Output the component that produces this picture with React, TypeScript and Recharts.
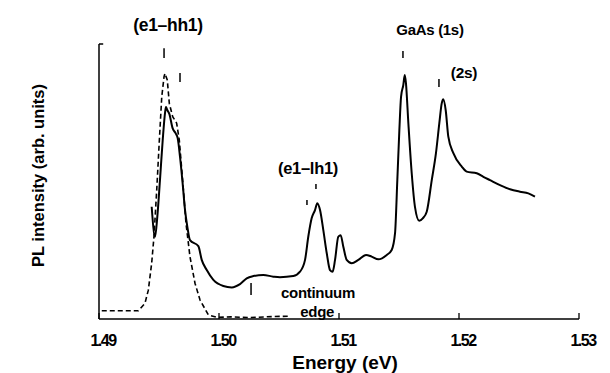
import React from 'react';
import { LineChart, Line, XAxis, YAxis, ReferenceLine, ReferenceDot, Label } from 'recharts';

// Measured PL spectrum (solid)
const plEnergy = [
  1.49439, 1.49467, 1.49486, 1.49508, 1.49531, 1.4955, 1.49558, 1.49569, 1.49586, 1.49614,
  1.49639, 1.49656, 1.49675, 1.49697, 1.49717, 1.49736, 1.49758, 1.49828, 1.49856, 1.49898,
  1.49953, 1.50036, 1.50106, 1.50175, 1.50231, 1.50286, 1.50369, 1.50453, 1.50508, 1.50619,
  1.50675, 1.50717, 1.50744, 1.50772, 1.508, 1.50819, 1.50842, 1.50869, 1.50898, 1.50925,
  1.50947, 1.50967, 1.50994, 1.51014, 1.51036, 1.51064, 1.51106, 1.51161, 1.51225, 1.51272,
  1.51328, 1.51398, 1.51439, 1.51467, 1.51486, 1.51503, 1.51517, 1.51536, 1.51548, 1.51558,
  1.51578, 1.51606, 1.51633, 1.51669, 1.51698, 1.51731, 1.51773, 1.51808, 1.51836, 1.51856,
  1.51869, 1.51889, 1.51911, 1.51953, 1.52023, 1.52064, 1.52148, 1.52203, 1.52258, 1.52342,
  1.52425, 1.52508, 1.52578, 1.52633,
];
const plIntensity = [
  40.8, 29.9, 37.2, 50.5, 65.1, 74.9, 77.1, 76.0, 74.6, 69.3,
  67.5, 65.7, 59.0, 49.3, 39.6, 33.6, 28.7, 26.5, 21.5, 17.8,
  14.2, 12.0, 11.5, 12.7, 14.8, 15.6, 16.0, 15.4, 15.2, 15.6,
  17.2, 21.5, 29.9, 36.6, 39.6, 42.1, 39.6, 32.4, 23.9, 17.8,
  17.2, 21.5, 29.9, 30.5, 26.3, 21.5, 20.3, 21.5, 23.3, 22.7,
  21.7, 23.3, 25.1, 31.2, 50.5, 68.7, 80.8, 85.1, 88.7, 85.7,
  71.2, 53.0, 40.8, 35.7, 36.6, 39.0, 50.5, 60.3, 71.2, 78.4,
  79.9, 76.0, 66.3, 60.3, 55.4, 53.6, 53.0, 51.7, 50.5, 48.7,
  47.2, 46.3, 45.7, 44.5,
];

// Reference (dashed) spectrum
const refEnergy = [
  1.49023, 1.49328, 1.49383, 1.49411, 1.49439, 1.49458, 1.49481, 1.49503, 1.49523, 1.49542,
  1.4955, 1.49569, 1.49586, 1.49614, 1.49647, 1.49669, 1.49697, 1.49725, 1.49758, 1.498,
  1.49842, 1.49911, 1.49981, 1.5010, 1.5025, 1.5045, 1.5059,
];
const refIntensity = [
  3.0, 3.0, 5.7, 10.5, 20.3, 29.9, 46.9, 65.1, 80.8, 88.1,
  89.3, 86.9, 78.4, 73.6, 71.2, 65.1, 50.5, 34.8, 22.7, 13.0,
  6.9, 1.5, 0.6, 0.8, 0.5, 0.9, 1.0,
];

// Peak marker ticks: energy, lower and upper intensity
const markerEnergy = [1.49542, 1.49675, 1.50808, 1.50733, 1.51533, 1.51833, 1.50267];
const markerLow = [94.9, 86.2, 47.3, 41.5, 94.9, 84.4, 8.7];
const markerHigh = [98.5, 89.5, 49.1, 43.3, 97.5, 87.3, 13.1];

// Annotations
const noteText = ['(e1\u2013hh1)', 'GaAs (1s)', '(2s)', '(e1\u2013lh1)', 'continuum', 'edge'];
const noteEnergy = [1.49575, 1.51758, 1.52042, 1.50742, 1.50825, 1.50818];
const noteIntensity = [106.9, 105.1, 89.5, 54.9, 9.5, 2.9];
const noteSize = [17.5, 15, 15.5, 16.5, 15, 15];

const xTicks = [1.49, 1.5, 1.51, 1.52, 1.53];

const FONT = '"Liberation Sans", Arial, sans-serif';

const plData = plEnergy.map((e, i) => ({ e, v: plIntensity[i] }));
const refData = refEnergy.map((e, i) => ({ e, v: refIntensity[i] }));

const XTick = (props: any) => {
  const { x, y, payload } = props;
  return (
    <g>
      <line x1={x} x2={x} y1={y} y2={y - 6} stroke="#000" strokeWidth={1.3} />
      <text
        x={x + 4}
        y={y + 27}
        textAnchor="middle"
        fontFamily={FONT}
        fontWeight="bold"
        fontSize={16}
        letterSpacing={-1.5}
        fill="#000"
      >
        {Number(payload.value).toFixed(2)}
      </text>
    </g>
  );
};

export default function App() {
  return (
    <div style={{ position: 'absolute', left: 0, top: 0, background: '#fff' }}>
      <LineChart
        width={610}
        height={373}
        margin={{ top: 44, right: 31, left: 0, bottom: 0 }}
      >
        <XAxis
          dataKey="e"
          type="number"
          domain={[1.49, 1.53]}
          ticks={xTicks}
          allowDataOverflow
          axisLine={{ stroke: '#000', strokeWidth: 1.5 }}
          tickLine={false}
          tickSize={0}
          tickMargin={0}
          tick={<XTick />}
          height={54}
          interval={0}
        >
          <Label
            content={(p: any) => {
              const vb = p.viewBox;
              return (
                <text
                  x={vb.x + vb.width / 2 + 6}
                  y={vb.y + 50}
                  textAnchor="middle"
                  fontFamily={FONT}
                  fontWeight="bold"
                  fontSize={19}
                  fill="#000"
                >
                  Energy (eV)
                </text>
              );
            }}
          />
        </XAxis>
        <YAxis
          type="number"
          domain={[0, 100]}
          allowDataOverflow
          width={99}
          tick={false}
          tickLine={false}
          axisLine={{ stroke: '#000', strokeWidth: 1.5 }}
        >
          <Label
            content={(p: any) => {
              const vb = p.viewBox;
              const cx = vb.x + 38;
              const cy = vb.y + vb.height / 2 - 6;
              return (
                <text
                  x={cx}
                  y={cy}
                  transform={`rotate(-90 ${cx} ${cy})`}
                  textAnchor="middle"
                  dominantBaseline="central"
                  fontFamily={FONT}
                  fontWeight="bold"
                  fontSize={16.5}
                  fill="#000"
                >
                  PL intensity (arb. units)
                </text>
              );
            }}
          />
        </YAxis>
        <ReferenceLine
          segment={[{ x: 1.49, y: 100 }, { x: 1.49035, y: 100 }]}
          stroke="#000"
          strokeWidth={1.5}
          ifOverflow="visible"
        />
        {markerEnergy.map((e, i) => (
          <ReferenceLine
            key={'m' + i}
            segment={[{ x: e, y: markerLow[i] }, { x: e, y: markerHigh[i] }]}
            stroke="#000"
            strokeWidth={1.5}
            ifOverflow="visible"
          />
        ))}
        <Line
          data={refData}
          dataKey="v"
          type="linear"
          stroke="#000"
          strokeWidth={1.6}
          strokeDasharray="5 3"
          dot={false}
          isAnimationActive={false}
        />
        <Line
          data={plData}
          dataKey="v"
          type="monotone"
          stroke="#000"
          strokeWidth={2}
          dot={false}
          isAnimationActive={false}
        />
        {noteText.map((t, i) => (
          <ReferenceDot
            key={'n' + i}
            x={noteEnergy[i]}
            y={noteIntensity[i]}
            r={0}
            fill="none"
            stroke="none"
            ifOverflow="visible"
          >
            <Label
              content={(p: any) => {
                const vb = p.viewBox;
                const cx = vb.cx !== undefined ? vb.cx : vb.x + (vb.width || 0) / 2;
                const cy = vb.cy !== undefined ? vb.cy : vb.y + (vb.height || 0) / 2;
                return (
                  <text
                    x={cx}
                    y={cy}
                    textAnchor="middle"
                    dominantBaseline="central"
                    fontFamily={FONT}
                    fontWeight="bold"
                    fontSize={noteSize[i]}
                    letterSpacing={-0.3}
                    fill="#000"
                  >
                    {t}
                  </text>
                );
              }}
            />
          </ReferenceDot>
        ))}
      </LineChart>
    </div>
  );
}
